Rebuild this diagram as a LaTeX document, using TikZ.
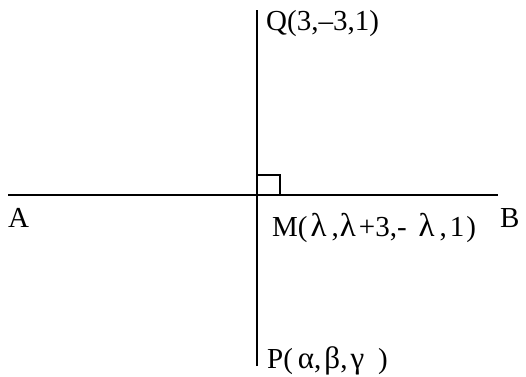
\documentclass[tikz,border=0pt]{standalone}
\usepackage{fontspec}
\setmainfont{Liberation Serif}
\newcommand{\gk}[1]{{\fontsize{33}{36}\selectfont #1}}
\newcommand{\gs}[1]{{\fontsize{31}{34}\selectfont #1}}
\begin{document}
\begin{tikzpicture}[x=1pt,y=1pt,
  ln/.style={line width=2pt},
  lbl/.style={font=\fontsize{29}{32}\selectfont, inner sep=0pt, anchor=base west}]
\useasboundingbox (0,0) rectangle (526,376);
\coordinate (Qe) at (257,366);
\coordinate (Pe) at (257,10);
\coordinate (Ae) at (8,181);
\coordinate (Be) at (498,181);
\draw[ln] (Pe) -- (Qe);
\draw[ln] (Ae) -- (Be);
\draw[line width=1.8pt] (257,201) -- (280,201) -- (280,181);
\node[lbl] (Q) at (266,346) {Q(3,–3,1)};
\node[lbl] (A) at (8,149) {A};
\node[lbl] (M) at (272,140) {M(\hspace{3pt}\gk{λ}\hspace{5pt},\hspace{1pt}\gk{λ}\hspace{3pt}+3,-\hspace{12pt}\gk{λ}\hspace{5pt},\hspace{3pt}1\hspace{2pt})};
\node[lbl] (B) at (500,149) {B};
\node[lbl] (P) at (267,8) {P(\hspace{5pt}\gs{α},\hspace{3pt}\gs{β},\hspace{3pt}\gs{γ}\hspace{14pt})};
\end{tikzpicture}
\end{document}
